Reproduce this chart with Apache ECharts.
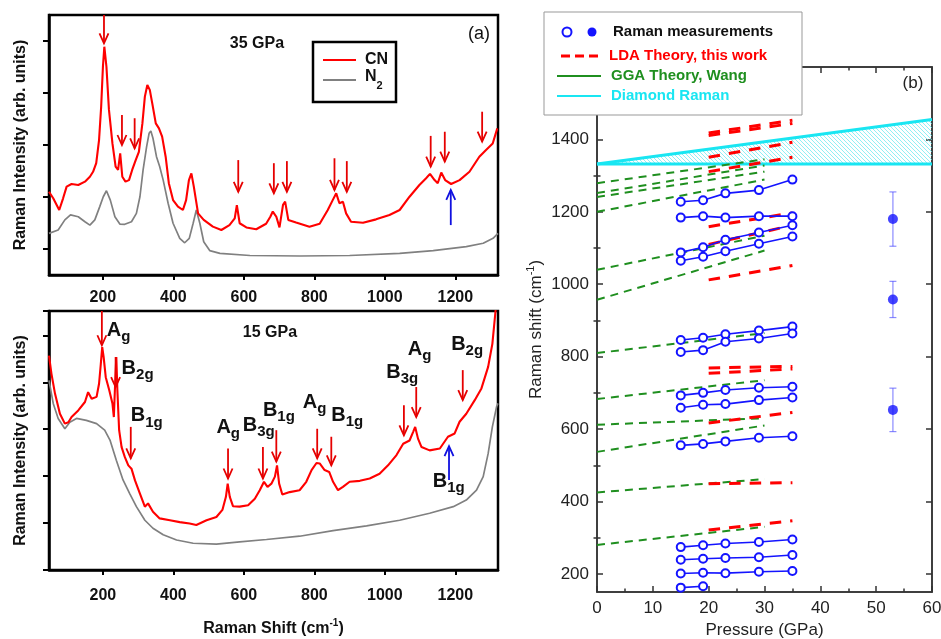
<!DOCTYPE html>
<html>
<head>
<meta charset="utf-8">
<script src="https://cdn.jsdelivr.net/npm/echarts@6/dist/echarts.min.js"></script>
<style>
html, body { margin: 0; padding: 0; background: #fff; }
#chart { width: 941px; height: 639px; }
</style>
</head>
<body>
<div id="chart"></div>
<script>
const FONT = '"Liberation Sans", Arial, Helvetica, sans-serif';

// ---------- Panel (a): Raman spectra, [Raman shift (cm-1), intensity (arb. units)] ----------
const cn35 = [[47,32.0],[59,29.5],[76,25],[87,29.5],[97,34],[111,35],[130,34.6],[149,35.9],[163,37.8],[172,39.7],[181,43],[189,51.9],[195,64.7],[200,80.1],[204,87.8],[210,80.1],[217,63.7],[227,50.6],[236,41.7],[243,40.4],[249,46.8],[255,37.8],[264,35.9],[274,36.5],[283,40.4],[293,44.2],[302,47.4],[312,58.3],[319,68.6],[326,73.1],[333,71.2],[340,66],[350,58.3],[359,56.4],[368,53.2],[378,45.5],[387,35.3],[399,28.8],[413,26.3],[427,25],[436,28.8],[444,36.5],[451,39.1],[458,33.9],[470,23.7],[486,21.2],[512,18.6],[536,17.3],[559,19.2],[574,21.8],[580,26.9],[588,19.9],[607,18.3],[635,17.6],[663,19.7],[675,22.4],[682,24.4],[692,22.4],[701,18.3],[711,27],[717,28.2],[726,21.2],[748,20.2],[786,18.6],[815,19.7],[838,25],[852,28.8],[862,31.4],[871,27.6],[881,28.2],[890,23.7],[904,20.5],[938,20.1],[975,21.4],[1013,23.1],[1042,25],[1070,30.1],[1098,34.6],[1117,37.2],[1128,38.9],[1141,36.5],[1150,35.3],[1160,39.4],[1171,36.5],[1188,35],[1212,36.5],[1240,39.7],[1268,45.5],[1287,48.1],[1306,50.6],[1319,56.4]];
const n2_35 = [[47,16],[73,17.3],[92,21.2],[108,23.1],[130,22.4],[149,20.5],[163,19.2],[177,21.2],[191,26.3],[201,30.1],[210,32.4],[221,28.8],[234,22.4],[248,19.6],[262,19.5],[281,20.5],[295,23.7],[305,30.1],[314,40.4],[324,49.4],[331,54.5],[336,55.4],[342,52.6],[352,45.5],[361,41.7],[371,36.5],[385,27.6],[399,19.9],[418,14.1],[432,12.4],[445,14.1],[456,19.9],[465,25],[475,19.9],[486,12.8],[503,9.4],[532,8.3],[617,7.5],[759,7.3],[900,7.5],[1042,8.3],[1137,9.4],[1231,10.9],[1279,12.2],[1307,14.1],[1321,16]];
const cn15 = [[47,45.7],[54,41.8],[64,37.6],[78,33.3],[92,31.2],[102,31.5],[111,32.6],[130,34],[149,35.8],[158,37.9],[168,36.5],[182,36.9],[189,39.7],[194,43.9],[198,47.5],[202,45.4],[208,41.1],[218,38.3],[227,35.5],[231,32.6],[235,40.4],[238,45.4],[241,38.3],[246,29.8],[253,26.2],[262,24.1],[272,22.3],[281,21.6],[291,19.1],[305,16.3],[319,13.5],[328,14.2],[342,12.4],[361,11],[390,10.6],[418,10.2],[446,9.9],[465,9.6],[494,10.6],[522,11.3],[539,12.8],[549,15.6],[554,18.4],[560,15.6],[569,13.6],[588,13.5],[612,13.8],[631,15.2],[645,17],[657,18.8],[667,17.7],[678,18.4],[688,19.9],[694,22.3],[700,18.4],[709,16.1],[730,16.6],[758,17],[777,18.8],[792,21.3],[806,22.8],[815,22.7],[829,21.3],[842,20.9],[853,18.8],[867,17],[881,17.7],[900,18.8],[929,19],[957,19.5],[985,20.5],[1009,22.3],[1033,24.5],[1052,26.9],[1070,27.6],[1080,29.4],[1086,30.5],[1094,28],[1104,26.2],[1127,25.5],[1156,25.9],[1179,28.4],[1198,29.1],[1212,31.6],[1231,33.3],[1255,36.2],[1274,38.7],[1293,43.3],[1305,48.2],[1314,55.2],[1320,60]];
const n2_15 = [[47,40.4],[59,35.5],[73,32.3],[92,30.1],[106,31.5],[125,32.3],[153,31.9],[182,31.2],[205,29.8],[220,27.7],[238,23.4],[257,19.2],[276,16.3],[295,13.5],[319,10.6],[342,8.9],[371,7.5],[409,6.4],[456,5.7],[522,5.5],[588,6],[664,6.5],[758,7.2],[853,8.4],[948,9.4],[1042,10.6],[1127,12.1],[1194,13.5],[1231,14.9],[1260,17],[1279,19.9],[1293,24.8],[1305,30.5],[1317,34.8],[1321,35.5]];
const shiftTicks = [200, 400, 600, 800, 1000, 1200];
const intensityTicks35 = [10, 30, 50, 70, 90];

// arrows: [Raman shift, tail intensity, tip intensity]
const arrows35 = [[203,100,89.1],[254,61.5,50],[290,60.3,48.7],[584,44.2,32],[685,43,31.4],[722,43.8,32],[857,44.9,32.7],[892,43.8,32],[1130,53.5,41.7],[1170,55.1,43.6],[1276,62.8,51.3]];
const blueArrows35 = [[1187,19.2,32.7]];
const arrows15 = [[197,55.2,47.9],[236,45.4,39],[279,30.5,23.8],[555,25.9,19.5],[654,26.2,19.5],[692,29.8,23.1],[808,30.1,23.8],[848,28.4,22.3],[1054,35.1,28.7],[1089,39,32.6],[1221,42.6,36.2]];
const blueArrows15 = [[1182,19.2,26.4]];

// mode symmetry labels at 15 GPa
const modeMain15 = ['A','B','B','A','B','B','A','B','B','A','B'];
const modeSub15 = ['g','2g','1g','g','3g','1g','g','1g','3g','g','2g'];
const modePos15 = [[211,50.7],[253,42.6],[279,32.4],[522,29.9],[597,30.3],[654,33.5],[767,35.3],[848,32.6],[1004,41.7],[1065,46.6],[1188,47.7]];
const blueModeMain15 = ['B'];
const blueModeSub15 = ['1g'];
const blueModePos15 = [[1136,18.4]];

// ---------- Panel (b): Raman shift (cm-1) vs pressure (GPa) ----------
const pressure = [15, 19, 23, 29, 35];
const ramanOpen = [
  [1228, 1232, 1251, 1260, 1289],
  [1184, 1188, 1184, 1188, 1188],
  [1088, 1102, 1123, 1143, 1163],
  [1065, 1076, 1091, 1112, 1132],
  [846, 852, 862, 872, 883],
  [813, 818, 841, 850, 864],
  [693, 700, 708, 714, 717],
  [659, 667, 669, 680, 687],
  [555, 559, 566, 576, 580],
  [274, 279, 284, 288, 295],
  [239, 242, 244, 246, 252],
  [201, 203, 202, 206, 208],
  [162, 166]
];
const filledP = 53;
const ramanFilled = [1180, 958, 653];
const ramanFilledErr = [75, 50, 60];
const ggaP = [0, 30];
const ggaStart = [1279, 1252, 1241, 1200, 1040, 957, 810, 683, 612, 537, 425, 280];
const ggaEnd = [1345, 1328, 1311, 1289, 1134, 1093, 865, 735, 630, 610, 462, 330];
const ldaP = [20, 35];
const ldaStart = [1418, 1411, 1351, 1311, 1159, 1110, 1012, 769, 754, 617, 449, 321];
const ldaEnd = [1453, 1444, 1392, 1351, 1197, 1163, 1052, 773, 766, 646, 452, 347];
const diamondP = [0, 60];
const diamondLow = [1332, 1332];
const diamondHigh = [1332, 1455];
const shiftMajor = [200, 400, 600, 800, 1000, 1200, 1400];
const shiftMinor = [300, 500, 700, 900, 1100, 1300, 1500];

const RED = '#ff0000', GRAY = '#808080', BLUE = '#1414ff', GREEN = '#1f8f1f', CYAN = '#19e6f2';

function hatchPattern() {
  const c = document.createElement('canvas');
  c.width = 4; c.height = 4;
  const g = c.getContext('2d');
  g.strokeStyle = '#5fe8f0';
  g.lineWidth = 0.7;
  g.beginPath();
  g.moveTo(-1, -1); g.lineTo(5, 5);
  g.moveTo(-1, 3); g.lineTo(1, 5);
  g.moveTo(3, -1); g.lineTo(5, 1);
  g.stroke();
  return c;
}
const hatch = hatchPattern();

function arrowRenderer(color) {
  return function (params, api) {
    const x = api.value(0);
    const p0 = api.coord([x, api.value(1)]);
    const p1 = api.coord([x, api.value(2)]);
    const dir = p1[1] > p0[1] ? 1 : -1;
    const hw = 4.5, hl = 10;
    return {
      type: 'group',
      children: [
        { type: 'line', shape: { x1: p0[0], y1: p0[1], x2: p1[0], y2: p1[1] },
          style: { stroke: color, lineWidth: 1.8 } },
        { type: 'polyline', shape: { points: [[p1[0] - hw, p1[1] - dir * hl], [p1[0], p1[1]], [p1[0] + hw, p1[1] - dir * hl]] },
          style: { stroke: color, lineWidth: 1.8, fill: null } }
      ]
    };
  };
}

const modeRich = {
  m: { fontSize: 20, fontWeight: 'bold', fontFamily: FONT, fill: '#111', lineHeight: 24, verticalAlign: 'top' },
  s: { fontSize: 15, fontWeight: 'bold', fontFamily: FONT, fill: '#111', lineHeight: 12, verticalAlign: 'bottom' }
};
function modeRenderer(mains, subs) {
  return function (params, api) {
    const p = api.coord([api.value(0), api.value(1)]);
    const i = params.dataIndex;
    return {
      type: 'text', x: p[0], y: p[1],
      style: { text: '{m|' + mains[i] + '}{s|' + subs[i] + '}', rich: modeRich, align: 'left', verticalAlign: 'middle' }
    };
  };
}

const series = [];
// panel (a) top: 35 GPa
series.push({ type: 'line', xAxisIndex: 0, yAxisIndex: 0, data: n2_35, showSymbol: false, lineStyle: { color: GRAY, width: 1.7 }, z: 2 });
series.push({ type: 'line', xAxisIndex: 0, yAxisIndex: 0, data: cn35, showSymbol: false, lineStyle: { color: RED, width: 2.1 }, z: 3 });
series.push({ type: 'custom', xAxisIndex: 0, yAxisIndex: 0, data: arrows35, renderItem: arrowRenderer('#e60000'), clip: false, z: 5 });
series.push({ type: 'custom', xAxisIndex: 0, yAxisIndex: 0, data: blueArrows35, renderItem: arrowRenderer('#1010e0'), clip: false, z: 5 });
// panel (a) bottom: 15 GPa
series.push({ type: 'line', xAxisIndex: 1, yAxisIndex: 1, data: n2_15, showSymbol: false, lineStyle: { color: GRAY, width: 1.7 }, z: 2 });
series.push({ type: 'line', xAxisIndex: 1, yAxisIndex: 1, data: cn15, showSymbol: false, lineStyle: { color: RED, width: 2.1 }, z: 3 });
series.push({ type: 'custom', xAxisIndex: 1, yAxisIndex: 1, data: arrows15, renderItem: arrowRenderer('#e60000'), clip: false, z: 5 });
series.push({ type: 'custom', xAxisIndex: 1, yAxisIndex: 1, data: blueArrows15, renderItem: arrowRenderer('#1010e0'), clip: false, z: 5 });
series.push({ type: 'custom', xAxisIndex: 1, yAxisIndex: 1, data: modePos15, renderItem: modeRenderer(modeMain15, modeSub15), clip: false, z: 6 });
series.push({ type: 'custom', xAxisIndex: 1, yAxisIndex: 1, data: blueModePos15, renderItem: modeRenderer(blueModeMain15, blueModeSub15), clip: false, z: 6 });

// panel (b): diamond Raman band, hatched between its two edges
series.push({ type: 'custom', xAxisIndex: 2, yAxisIndex: 2, data: diamondP.map((p, i) => [p, diamondLow[i], diamondHigh[i]]),
  renderItem: function (params, api) {
    const i = params.dataIndex;
    if (i === 0) return null;
    const a0 = api.coord([diamondP[i - 1], diamondLow[i - 1]]), a1 = api.coord([diamondP[i], diamondLow[i]]);
    const b0 = api.coord([diamondP[i - 1], diamondHigh[i - 1]]), b1 = api.coord([diamondP[i], diamondHigh[i]]);
    return { type: 'group', children: [
      { type: 'polygon', shape: { points: [b0, b1, a1, a0] }, style: { fill: { image: hatch, repeat: 'repeat' }, stroke: null } },
      { type: 'line', shape: { x1: a0[0], y1: a0[1], x2: a1[0], y2: a1[1] }, style: { stroke: CYAN, lineWidth: 3 } },
      { type: 'line', shape: { x1: b0[0], y1: b0[1], x2: b1[0], y2: b1[1] }, style: { stroke: CYAN, lineWidth: 3 } }
    ] };
  }, z: 2 });
// GGA theory
ggaStart.forEach((v, i) => {
  series.push({ type: 'line', xAxisIndex: 2, yAxisIndex: 2, data: [[ggaP[0], v], [ggaP[1], ggaEnd[i]]], showSymbol: false,
    lineStyle: { color: GREEN, width: 2, type: [8, 6] }, z: 3 });
});
// LDA theory
ldaStart.forEach((v, i) => {
  series.push({ type: 'line', xAxisIndex: 2, yAxisIndex: 2, data: [[ldaP[0], v], [ldaP[1], ldaEnd[i]]], showSymbol: false,
    lineStyle: { color: RED, width: 3, type: [11.5, 9] }, z: 4 });
});
// measured modes (open circles)
ramanOpen.forEach(row => {
  series.push({ type: 'line', xAxisIndex: 2, yAxisIndex: 2, data: row.map((v, j) => [pressure[j], v]),
    symbol: 'emptyCircle', symbolSize: 8, itemStyle: { color: BLUE, borderWidth: 1.5 }, lineStyle: { color: BLUE, width: 1.6 }, z: 5 });
});
// measured modes at 53 GPa with error bars
series.push({ type: 'custom', xAxisIndex: 2, yAxisIndex: 2, data: ramanFilled.map((v, i) => [filledP, v - ramanFilledErr[i], v + ramanFilledErr[i]]),
  renderItem: function (params, api) {
    const lo = api.coord([api.value(0), api.value(1)]);
    const hi = api.coord([api.value(0), api.value(2)]);
    const st = { stroke: 'rgba(60,60,255,0.6)', lineWidth: 1.2 };
    return { type: 'group', children: [
      { type: 'line', shape: { x1: lo[0], y1: lo[1], x2: hi[0], y2: hi[1] }, style: st },
      { type: 'line', shape: { x1: lo[0] - 3.5, y1: lo[1], x2: lo[0] + 3.5, y2: lo[1] }, style: st },
      { type: 'line', shape: { x1: hi[0] - 3.5, y1: hi[1], x2: hi[0] + 3.5, y2: hi[1] }, style: st }
    ] };
  }, z: 5 });
series.push({ type: 'scatter', xAxisIndex: 2, yAxisIndex: 2, data: ramanFilled.map(v => [filledP, v]),
  symbol: 'circle', symbolSize: 10, itemStyle: { color: BLUE }, z: 6 });

const plain = v => String(v);
const boldLabel = { color: '#111', fontWeight: 'bold', fontSize: 16, fontFamily: FONT, formatter: plain };
const leftTitle = { color: '#111', fontWeight: 'bold', fontSize: 16, fontFamily: FONT,
  rich: { sup: { fontSize: 10, fontWeight: 'bold', fontFamily: FONT, verticalAlign: 'top', lineHeight: 22 } } };
const frameLine = { show: true, onZero: false, lineStyle: { color: '#000', width: 2.5 } };
const rightLabel = { color: '#222', fontSize: 17, fontFamily: FONT };
const rightLine = { show: true, onZero: false, lineStyle: { color: '#333', width: 1.5 } };

const option = {
  animation: false,
  backgroundColor: '#fff',
  textStyle: { fontFamily: FONT },
  grid: [
    { left: 49, width: 449, top: 15, height: 260, show: true, borderColor: '#000', borderWidth: 2.5, backgroundColor: 'transparent', containLabel: false, outerBoundsMode: 'none' },
    { left: 49, width: 449, top: 311, height: 259, show: true, borderColor: '#000', borderWidth: 2.5, backgroundColor: 'transparent', containLabel: false, outerBoundsMode: 'none' },
    { left: 597, width: 335, top: 67, height: 525, show: true, borderColor: '#333', borderWidth: 1.5, backgroundColor: 'transparent', containLabel: false, outerBoundsMode: 'none' }
  ],
  xAxis: [
    { gridIndex: 0, type: 'value', min: 47, max: 1321, position: 'bottom', axisLine: frameLine,
      axisTick: { show: true, inside: false, length: 5, customValues: shiftTicks, lineStyle: { color: '#000', width: 2 } },
      axisLabel: Object.assign({ show: true, customValues: shiftTicks, margin: 15 }, boldLabel), splitLine: { show: false } },
    { gridIndex: 1, type: 'value', min: 47, max: 1321, position: 'bottom', axisLine: frameLine,
      axisTick: { show: true, inside: false, length: 5, customValues: shiftTicks, lineStyle: { color: '#000', width: 2 } },
      axisLabel: Object.assign({ show: true, customValues: shiftTicks, margin: 18 }, boldLabel), splitLine: { show: false },
      name: 'Raman Shift (cm{sup|-1})', nameLocation: 'middle', nameGap: 48, nameMoveOverlap: false, nameTextStyle: leftTitle },
    { gridIndex: 2, type: 'value', min: 0, max: 60, interval: 10, position: 'bottom', axisLine: rightLine,
      axisTick: { show: true, inside: true, length: 6, lineStyle: { color: '#333', width: 1.5 } },
      minorTick: { show: true, splitNumber: 2, length: 3.5, lineStyle: { color: '#333', width: 1.5 } },
      axisLabel: Object.assign({ show: true, margin: 8, formatter: plain }, rightLabel), splitLine: { show: false }, minorSplitLine: { show: false },
      name: 'Pressure (GPa)', nameLocation: 'middle', nameGap: 30, nameMoveOverlap: false, nameTextStyle: rightLabel },
    { gridIndex: 2, type: 'value', min: 0, max: 60, interval: 10, position: 'top', axisLine: rightLine,
      axisTick: { show: true, inside: true, length: 6, lineStyle: { color: '#333', width: 1.5 } },
      minorTick: { show: true, splitNumber: 2, length: 3.5, lineStyle: { color: '#333', width: 1.5 } },
      axisLabel: { show: false }, splitLine: { show: false } }
  ],
  yAxis: [
    { gridIndex: 0, type: 'value', min: 0, max: 100, axisLine: frameLine,
      axisTick: { show: true, inside: false, length: 6, customValues: intensityTicks35, lineStyle: { color: '#000', width: 2 } },
      axisLabel: { show: false }, splitLine: { show: false },
      name: 'Raman Intensity (arb. units)', nameLocation: 'middle', nameRotate: 90, nameGap: 20, nameMoveOverlap: false, nameTextStyle: leftTitle },
    { gridIndex: 1, type: 'value', min: 0, max: 55.2, interval: 10, axisLine: frameLine,
      axisTick: { show: true, inside: false, length: 6, lineStyle: { color: '#000', width: 2 } },
      axisLabel: { show: false }, splitLine: { show: false },
      name: 'Raman Intensity (arb. units)', nameLocation: 'middle', nameRotate: 90, nameGap: 20, nameMoveOverlap: false, nameTextStyle: leftTitle },
    { gridIndex: 2, type: 'value', min: 150, max: 1600, position: 'left', axisLine: rightLine,
      axisTick: { show: true, inside: true, length: 6, customValues: shiftMajor, lineStyle: { color: '#333', width: 1.5 } },
      axisLabel: Object.assign({ show: true, customValues: shiftMajor, margin: 8, formatter: plain }, rightLabel), splitLine: { show: false },
      name: 'Raman shift (cm{sup|-1})', nameLocation: 'middle', nameRotate: 90, nameGap: 50, nameMoveOverlap: false,
      nameTextStyle: Object.assign({ rich: { sup: { fontSize: 11, fontFamily: FONT, color: '#222', verticalAlign: 'top', lineHeight: 22 } } }, rightLabel) },
    { gridIndex: 2, type: 'value', min: 150, max: 1600, position: 'left', axisLine: { show: false },
      axisTick: { show: true, inside: true, length: 3.5, customValues: shiftMinor, lineStyle: { color: '#333', width: 1.5 } },
      axisLabel: { show: false }, splitLine: { show: false } },
    { gridIndex: 2, type: 'value', min: 150, max: 1600, position: 'right', axisLine: rightLine,
      axisTick: { show: true, inside: true, length: 6, customValues: shiftMajor, lineStyle: { color: '#333', width: 1.5 } },
      axisLabel: { show: false }, splitLine: { show: false } },
    { gridIndex: 2, type: 'value', min: 150, max: 1600, position: 'right', axisLine: { show: false },
      axisTick: { show: true, inside: true, length: 3.5, customValues: shiftMinor, lineStyle: { color: '#333', width: 1.5 } },
      axisLabel: { show: false }, splitLine: { show: false } }
  ],
  series: series,
  graphic: [
    // panel (a) annotations
    { type: 'text', x: 257, y: 44, style: { text: '35 GPa', font: 'bold 16px ' + FONT, fill: '#111', align: 'center', verticalAlign: 'middle' }, z: 10 },
    { type: 'text', x: 270, y: 333, style: { text: '15 GPa', font: 'bold 16px ' + FONT, fill: '#111', align: 'center', verticalAlign: 'middle' }, z: 10 },
    { type: 'text', x: 479, y: 34, style: { text: '(a)', font: '18px ' + FONT, fill: '#111', align: 'center', verticalAlign: 'middle' }, z: 10 },
    { type: 'rect', shape: { x: 313, y: 42, width: 83, height: 60 }, style: { fill: '#fff', stroke: '#000', lineWidth: 2.5 }, z: 10 },
    { type: 'line', shape: { x1: 323, y1: 60, x2: 356, y2: 60 }, style: { stroke: RED, lineWidth: 2 }, z: 11 },
    { type: 'text', x: 365, y: 60, style: { text: 'CN', font: 'bold 16px ' + FONT, fill: '#111', verticalAlign: 'middle' }, z: 11 },
    { type: 'line', shape: { x1: 323, y1: 80, x2: 356, y2: 80 }, style: { stroke: GRAY, lineWidth: 2 }, z: 11 },
    { type: 'text', x: 365, y: 80, style: { text: '{m|N}{s|2}', verticalAlign: 'middle',
      rich: { m: { font: 'bold 16px ' + FONT, fill: '#111', lineHeight: 22, verticalAlign: 'top' }, s: { font: 'bold 11px ' + FONT, fill: '#111', lineHeight: 10, verticalAlign: 'bottom' } } }, z: 11 },
    // panel (b) legend
    { type: 'rect', shape: { x: 544, y: 12, width: 258, height: 103 }, style: { fill: '#fff', stroke: '#999', lineWidth: 1 }, z: 10 },
    { type: 'circle', shape: { cx: 567, cy: 32, r: 4.5 }, style: { fill: '#fff', stroke: BLUE, lineWidth: 2 }, z: 11 },
    { type: 'circle', shape: { cx: 592, cy: 32, r: 4.5 }, style: { fill: BLUE }, z: 11 },
    { type: 'text', x: 613, y: 32, style: { text: 'Raman measurements', font: 'bold 15px ' + FONT, fill: '#111', verticalAlign: 'middle' }, z: 11 },
    { type: 'line', shape: { x1: 561, y1: 56, x2: 601, y2: 56 }, style: { stroke: RED, lineWidth: 3, lineDash: [9, 5] }, z: 11 },
    { type: 'text', x: 609, y: 56, style: { text: 'LDA Theory, this work', font: 'bold 15px ' + FONT, fill: RED, verticalAlign: 'middle' }, z: 11 },
    { type: 'line', shape: { x1: 557, y1: 76, x2: 601, y2: 76 }, style: { stroke: GREEN, lineWidth: 2 }, z: 11 },
    { type: 'text', x: 611, y: 76, style: { text: 'GGA Theory, Wang', font: 'bold 15px ' + FONT, fill: GREEN, verticalAlign: 'middle' }, z: 11 },
    { type: 'line', shape: { x1: 557, y1: 96, x2: 601, y2: 96 }, style: { stroke: CYAN, lineWidth: 2 }, z: 11 },
    { type: 'text', x: 611, y: 96, style: { text: 'Diamond Raman', font: 'bold 15px ' + FONT, fill: CYAN, verticalAlign: 'middle' }, z: 11 },
    { type: 'text', x: 913, y: 83, style: { text: '(b)', font: '17px ' + FONT, fill: '#222', align: 'center', verticalAlign: 'middle' }, z: 11 }
  ]
};

const chart = echarts.init(document.getElementById('chart'), null, { renderer: 'canvas' });
chart.setOption(option);
</script>
</body>
</html>
